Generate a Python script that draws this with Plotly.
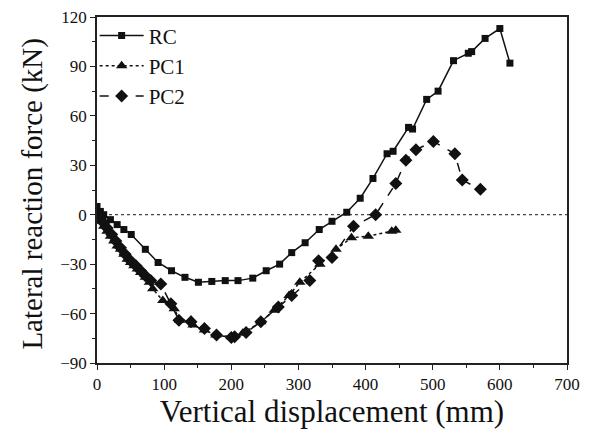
import plotly.graph_objects as go

# RC (squares, solid)
rc_x = [0, 5, 10, 20, 30, 40, 51, 72, 91, 111, 131, 151, 171, 191, 210, 232, 252, 272,
        290, 310, 331, 350, 372, 392, 411, 432, 441, 464, 470, 491, 508, 531, 553, 558,
        578, 600, 615]
rc_y = [5, 2, 0, -3, -6, -9, -12, -21, -29, -34, -38, -41, -40.5, -40, -40, -38.5, -34,
        -30, -23, -17, -9, -4, 1.5, 10, 22, 37, 38.5, 53, 52, 70, 75, 93.5, 98, 99, 107,
        113, 92]

# PC1 (triangles, dotted)
pc1_x = [0, 5, 10, 15, 20, 25, 30, 35, 40, 45, 50, 55, 60, 65, 72, 78, 83, 98, 115, 123,
         140, 143, 160, 177, 200, 217, 244, 264, 286, 302, 332, 356, 379, 404, 439, 445]
pc1_y = [0, -4, -7, -10, -13, -16, -19, -21, -24, -27, -29, -31, -33, -35, -38, -41, -45,
         -52, -57, -64, -64, -67, -70, -73, -74, -72, -65, -58, -49, -41, -30, -21, -14,
         -13, -10, -9.5]

# PC2 (diamonds, dashed)
pc2_x = [0, 5, 10, 15, 22, 28, 35, 42, 50, 58, 65, 72, 80, 95, 110, 122, 140, 160, 178,
         200, 205, 222, 244, 270, 290, 317, 330, 350, 382, 415, 445, 460, 475, 501, 533,
         544, 571]
pc2_y = [2, -2, -5, -8, -12, -16, -20, -24, -28, -31, -34, -37, -40, -42, -54, -64, -65,
         -69, -73, -74.5, -74, -71.5, -65, -56, -49, -40, -28, -26, -7, 0, 19, 33, 39.5,
         44.5, 37, 21, 15.5]

x_ticks = [0, 100, 200, 300, 400, 500, 600, 700]
y_ticks = [-90, -60, -30, 0, 30, 60, 90, 120]

FONT = "Liberation Serif, Times New Roman, serif"
BLACK = "#111111"

fig = go.Figure()
fig.add_trace(go.Scatter(
    x=rc_x, y=rc_y, name="RC", mode="lines+markers",
    line=dict(color=BLACK, width=1.5, dash="solid"),
    marker=dict(symbol="square", size=7, color=BLACK)))
fig.add_trace(go.Scatter(
    x=pc1_x, y=pc1_y, name="PC1", mode="lines+markers",
    line=dict(color=BLACK, width=1.5, dash="dot"),
    marker=dict(symbol="triangle-up", size=10, color=BLACK)))
fig.add_trace(go.Scatter(
    x=pc2_x, y=pc2_y, name="PC2", mode="lines+markers",
    line=dict(color=BLACK, width=1.5, dash="dash"),
    marker=dict(symbol="diamond", size=10, color=BLACK)))

fig.add_shape(type="line", xref="paper", x0=0, x1=1, yref="y", y0=0, y1=0,
              line=dict(color="#444444", width=1.2, dash="dot"), layer="below")

fig.add_annotation(text="Lateral reaction force (kN)", textangle=-90,
                   xref="paper", yref="paper", x=-0.138, y=0.49,
                   xanchor="center", yanchor="middle", showarrow=False,
                   font=dict(family=FONT, size=29, color=BLACK))

axis_common = dict(
    showline=True, linecolor="#222222", linewidth=1.5, mirror=True,
    ticks="outside", ticklen=5, tickwidth=1.2, tickcolor="#222222",
    showgrid=False, zeroline=False,
    tickfont=dict(family=FONT, size=17, color=BLACK),
)

fig.update_layout(
    width=597, height=435,
    margin=dict(l=97, r=30, t=17, b=72, autoexpand=False),
    paper_bgcolor="white", plot_bgcolor="white",
    font=dict(family=FONT, color=BLACK),
    xaxis=dict(range=[0, 700], tickvals=x_ticks,
               minor=dict(ticks="outside", ticklen=3, tickwidth=1, tickcolor="#222222", dtick=50),
               title=dict(text="Vertical displacement (mm)", font=dict(family=FONT, size=31), standoff=0),
               **axis_common),
    yaxis=dict(range=[-90, 120], tickvals=y_ticks,
               minor=dict(ticks="outside", ticklen=3, tickwidth=1, tickcolor="#222222", dtick=15),
               **axis_common),
    legend=dict(x=-0.005, y=1.005, xanchor="left", yanchor="top",
                bgcolor="rgba(0,0,0,0)", font=dict(family=FONT, size=21, color=BLACK),
                itemwidth=44, tracegroupgap=0),
    showlegend=True,
)

fig.write_html("out.html")
